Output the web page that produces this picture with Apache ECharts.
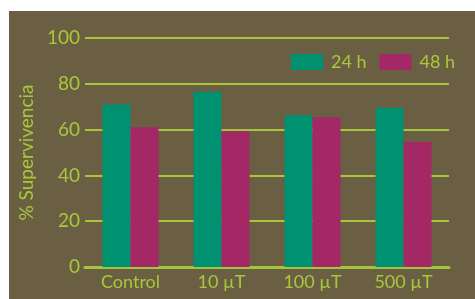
<!DOCTYPE html>
<html>
<head>
<meta charset="utf-8">
<script src="https://cdn.jsdelivr.net/npm/echarts@6/dist/echarts.min.js"></script>
<style>
  html, body { margin: 0; padding: 0; background: #ffffff; }
  #chart { position: absolute; left: 9px; top: 11px; width: 466px; height: 288px; }
</style>
</head>
<body>
<div id="chart"></div>
<script>
var categories = ['Control', '10 \u00b5T', '100 \u00b5T', '500 \u00b5T'];
var values24h = [71, 76.5, 66.3, 69.5];
var values48h = [61, 59.4, 65.4, 54.6];
var seriesNames = ['24 h', '48 h'];

var labelColor = '#a8c83a';
var lineColor = '#a5c63a';

var dom = document.getElementById('chart');
var myChart = echarts.init(dom);

var option = {
    backgroundColor: '#6b5f43',
    animation: false,
    textStyle: { fontFamily: 'Lato' },
    legend: {
        data: seriesNames,
        left: 277,
        top: 37,
        itemWidth: 32,
        itemHeight: 16,
        itemGap: 13,
        icon: 'rect',
        textStyle: { color: labelColor, fontSize: 18, fontFamily: 'Lato', padding: [0, 0, 0, 3] }
    },
    grid: {
        left: 71,
        right: 26,
        top: 27,
        bottom: 32
    },
    xAxis: {
        type: 'category',
        data: categories,
        axisTick: { show: false },
        axisLine: { lineStyle: { color: lineColor, width: 3 } },
        axisLabel: { color: labelColor, fontSize: 18, margin: 6, fontFamily: 'Lato' }
    },
    yAxis: {
        type: 'value',
        min: 0,
        max: 100,
        interval: 20,
        name: '% Supervivencia',
        nameLocation: 'middle',
        nameGap: 49,
        nameTextStyle: { color: labelColor, fontSize: 19, fontFamily: 'Lato' },
        axisLine: { show: false },
        axisTick: { show: false },
        axisLabel: { color: labelColor, fontSize: 19, margin: 5, fontFamily: 'Lato' },
        splitLine: { lineStyle: { color: lineColor, width: 2 } }
    },
    series: [
        {
            name: seriesNames[0],
            type: 'bar',
            barWidth: 28,
            barGap: '0%',
            itemStyle: { color: '#009270' },
            data: values24h
        },
        {
            name: seriesNames[1],
            type: 'bar',
            barWidth: 28,
            itemStyle: { color: '#a42866' },
            data: values48h
        }
    ]
};

if (option && typeof option === 'object') {
    myChart.setOption(option);
}
</script>
</body>
</html>
